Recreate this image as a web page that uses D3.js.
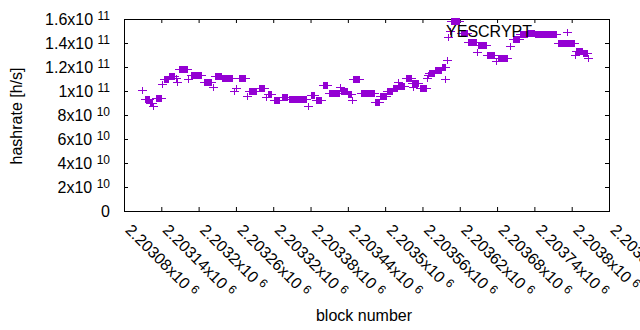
<!DOCTYPE html>
<html>
<head>
<meta charset="utf-8">
<script src="https://cdn.jsdelivr.net/npm/d3@7"></script>
<style>
  body { margin: 0; background: #fff; }
  svg { display: block; font-family: "Liberation Sans", Arial, sans-serif; }
</style>
</head>
<body>
<div id="viz"></div>
<script>
// one reading per block; stretches where the estimate stayed flat are kept as runs
// (first block, last block, hashrate in GH/s). a single point has from == to
var runFrom = [2203109, 2203114, 2203122, 2203127, 2203131, 2203141, 2203144, 2203152, 2203163, 2203165,
               2203168, 2203183, 2203188, 2203209, 2203223, 2203226, 2203238, 2203257, 2203260, 2203265,
               2203278, 2203281, 2203297, 2203308, 2203311, 2203321, 2203334, 2203345, 2203376, 2203381,
               2203389, 2203400, 2203410, 2203428, 2203429, 2203440, 2203447, 2203449, 2203461, 2203484,
               2203492, 2203503, 2203513, 2203520, 2203521, 2203534, 2203543, 2203545, 2203556, 2203567,
               2203569, 2203571, 2203580, 2203591, 2203597, 2203599, 2203601, 2203604, 2203606, 2203622,
               2203633, 2203647, 2203649, 2203663, 2203678, 2203681, 2203701, 2203706, 2203717, 2203730,
               2203741, 2203778, 2203805, 2203807, 2203818, 2203827];
var runTo   = [2203109, 2203120, 2203125, 2203127, 2203140, 2203141, 2203151, 2203160, 2203163, 2203165,
               2203181, 2203183, 2203204, 2203220, 2203223, 2203236, 2203254, 2203257, 2203260, 2203275,
               2203278, 2203292, 2203305, 2203308, 2203316, 2203329, 2203342, 2203373, 2203376, 2203386,
               2203397, 2203406, 2203426, 2203428, 2203439, 2203445, 2203447, 2203458, 2203482, 2203490,
               2203501, 2203511, 2203519, 2203520, 2203530, 2203542, 2203553, 2203545, 2203566, 2203567,
               2203569, 2203579, 2203590, 2203596, 2203597, 2203599, 2203601, 2203604, 2203619, 2203632,
               2203646, 2203647, 2203662, 2203675, 2203678, 2203696, 2203701, 2203715, 2203728, 2203739,
               2203775, 2203804, 2203805, 2203817, 2203825, 2203827];
var runRate = [100.8, 92.9, 90.0, 86.7, 93.75, 105.8, 110.0, 112.1, 110.8, 106.7,
               118.3, 109.2, 113.3, 106.7, 103.3, 111.7, 110.4, 99.2, 102.5, 110.8,
               95.8, 99.2, 101.7, 95.0, 96.7, 92.5, 95.0, 92.9, 86.7, 96.25,
               91.7, 105.0, 98.3, 103.3, 100.0, 96.7, 92.5, 109.2, 98.3, 90.8,
               95.4, 100.0, 102.5, 106.7, 103.75, 110.4, 106.25, 103.3, 102.5, 110.8,
               113.3, 115.0, 116.7, 119.6, 110.0, 125.8, 145.0, 150.0, 158.3, 148.3,
               140.8, 132.5, 138.3, 129.2, 124.2, 127.1, 136.7, 143.3, 146.7, 148.3,
               146.7, 139.2, 130.0, 132.9, 131.25, 127.5];

var xTicks = [2203080, 2203140, 2203200, 2203260, 2203320, 2203380, 2203440,
              2203500, 2203560, 2203620, 2203680, 2203740, 2203800, 2203860];
var yTicks = [0, 2e10, 4e10, 6e10, 8e10, 1e11, 1.2e11, 1.4e11, 1.6e11];
var seriesName = 'YESCRYPT';

var width = 640,
    height = 330,
    plotL = 124, plotR = 609, plotT = 19, plotB = 211,
    tickLen = 4,
    purple = '#9400d3',
    armX = 4, armY = 3.5;

var x = d3.scaleLinear()
    .domain([xTicks[0], xTicks[xTicks.length - 1]])
    .range([plotL, plotR]);

var y = d3.scaleLinear()
    .domain([0, 1.6e11])
    .range([plotB, plotT]);

var runs = runFrom.map(function(f, i) {
    return { from: f, to: runTo[i], rate: runRate[i] * 1e9 };
});

var svg = d3.select('#viz').append('svg')
    .attr('width', width)
    .attr('height', height);

function sciParts(v, exp) {
    if (v === 0) return ['0', ''];
    if (exp === undefined) exp = Math.floor(Math.log10(v));
    var m = +(v / Math.pow(10, exp)).toFixed(6);
    return [m + 'x10\u00a0', String(exp)];
}

function writeSci(sel, exp) {
    sel.each(function(d) {
        var t = d3.select(this), p = sciParts(d, exp);
        t.text(null);
        t.append('tspan').text(p[0]);
        if (p[1]) t.append('tspan').attr('font-size', 12).attr('dy', -4.5).text(p[1]);
    });
}

// axes, gnuplot style: inward ticks mirrored on all sides
var xAxis = svg.append('g')
    .attr('transform', 'translate(0,' + plotB + ')')
    .call(d3.axisBottom(x).tickValues(xTicks).tickSizeInner(-tickLen).tickSizeOuter(0));

svg.append('g')
    .attr('transform', 'translate(0,' + plotT + ')')
    .call(d3.axisTop(x).tickValues(xTicks).tickSizeInner(-tickLen).tickSizeOuter(0).tickFormat(''));

var yAxis = svg.append('g')
    .attr('transform', 'translate(' + plotL + ',0)')
    .call(d3.axisLeft(y).tickValues(yTicks).tickSizeInner(-tickLen).tickSizeOuter(0).tickPadding(14));

svg.append('g')
    .attr('transform', 'translate(' + plotR + ',0)')
    .call(d3.axisRight(y).tickValues(yTicks).tickSizeInner(-tickLen).tickSizeOuter(0).tickFormat(''));

svg.selectAll('.domain').remove();
svg.selectAll('.tick line').attr('stroke', '#000');
svg.selectAll('g').attr('font-family', null).attr('font-size', 16);

yAxis.selectAll('.tick text')
    .attr('fill', '#000')
    .call(writeSci);

xAxis.selectAll('.tick text')
    .attr('fill', '#000')
    .attr('x', 0)
    .attr('y', 0)
    .attr('dy', null)
    .attr('text-anchor', 'start')
    .attr('transform', 'translate(0,20) rotate(45)')
    .call(writeSci, 6);

svg.append('rect')
    .attr('x', plotL + 0.5)
    .attr('y', plotT + 0.5)
    .attr('width', plotR - plotL)
    .attr('height', plotB - plotT)
    .attr('fill', 'none')
    .attr('stroke', '#000');

// plus markers; a run of consecutive blocks merges into a bar with arms at its ends
function drawPlus(g) {
    g.append('rect')
        .attr('x', function(d) { return d.x0 - armX; })
        .attr('y', function(d) { return d.cy - 0.5; })
        .attr('width', function(d) { return d.x1 - d.x0 + 2 * armX + 1; })
        .attr('height', 1);
    g.append('rect')
        .attr('x', function(d) { return d.x0; })
        .attr('y', function(d) { return d.cy - armY; })
        .attr('width', function(d) { return d.x1 - d.x0 + 1; })
        .attr('height', 2 * armY);
}

svg.append('g')
    .attr('fill', purple)
    .attr('shape-rendering', 'crispEdges')
    .selectAll('g').data(runs.map(function(r) {
        return { x0: x(r.from), x1: x(r.to), cy: y(r.rate) };
    }))
    .enter().append('g')
    .call(drawPlus);

// key
svg.append('text')
    .attr('x', 532)
    .attr('y', 36.5)
    .attr('text-anchor', 'end')
    .attr('font-size', 16)
    .text(seriesName);

svg.append('g')
    .attr('fill', purple)
    .attr('shape-rendering', 'crispEdges')
    .selectAll('g').data([{ x0: 567, x1: 567, cy: 32 }])
    .enter().append('g')
    .call(drawPlus);

// axis titles
svg.append('text')
    .attr('x', 364)
    .attr('y', 321)
    .attr('text-anchor', 'middle')
    .attr('font-size', 16)
    .text('block number');

svg.append('text')
    .attr('transform', 'translate(22,116) rotate(-90)')
    .attr('text-anchor', 'middle')
    .attr('font-size', 16)
    .text('hashrate [h/s]');
</script>
</body>
</html>
